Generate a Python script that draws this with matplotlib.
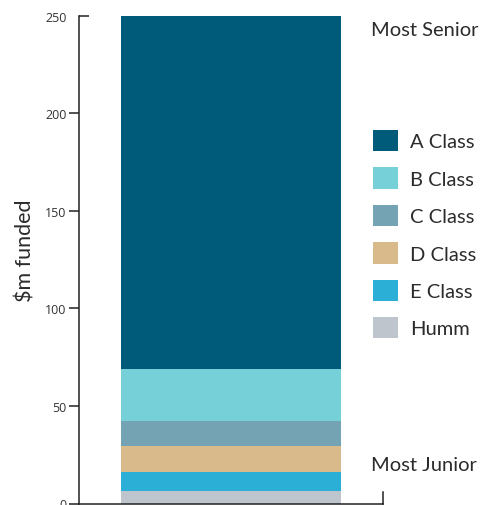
import matplotlib
matplotlib.use("Agg")
import matplotlib.pyplot as plt
from matplotlib.ticker import FixedLocator, FixedFormatter

# Tranche sizes ($m), stacked from most junior (bottom) to most senior (top)
classes = ["Humm", "E Class", "D Class", "C Class", "B Class", "A Class"]
amounts = [6.2, 9.8, 13.3, 12.8, 26.6, 181.3]
colors = ["#bfc5cc", "#2bafd6", "#d9ba8a", "#74a3b3", "#76d0d8", "#005a7a"]
y_ticks = [0, 50, 100, 150, 200]
y_top = 250

W, H = 497, 506
fig = plt.figure(figsize=(W / 100, H / 100), dpi=100)
ax = fig.add_axes([79 / W, (H - 504.5) / H, (383 - 79) / W, (504.5 - 16.7) / H])

handles = {}
bottom = 0.0
for name, amt, col in zip(classes, amounts, colors):
    bars = ax.bar(0, amt, bottom=bottom, width=0.724, color=col, linewidth=0)
    handles[name] = bars
    bottom += amt

ax.set_xlim(-0.5, 0.5)
ax.set_ylim(0, y_top)
ax.set_xticks([])

# Spines: left axis, baseline, and a short end cap on the right
ax.spines["top"].set_visible(False)
for s in ["left", "bottom", "right"]:
    ax.spines[s].set_color("#222222")
    ax.spines[s].set_linewidth(1.1)
ax.spines["right"].set_bounds(0, 6)

ax.yaxis.set_major_locator(FixedLocator(y_ticks))
ax.yaxis.set_minor_locator(FixedLocator([y_top]))
ax.yaxis.set_minor_formatter(FixedFormatter([str(y_top)]))
ax.tick_params(axis="y", which="major", direction="out", length=7, width=1.1,
               color="#222222", labelsize=9, labelcolor="#333333", pad=2)
ax.tick_params(axis="y", which="minor", direction="in", length=7, width=1.1,
               color="#222222", labelsize=9, labelcolor="#333333", pad=9)
ax.tick_params(axis="y", which="both", right=False)
for lab in ax.get_yticklabels(which="both"):
    lab.set_fontfamily("Open Sans")

txt = dict(family="Lato", color="#2b2b2b")

fig.text(25 / W, 1 - 251 / H, "$m funded", rotation=90, ha="center", va="center",
         fontsize=15.5, **txt)

fig.text(371 / W, 1 - 30 / H, "Most Senior", ha="left", va="center",
         fontsize=14.5, **txt)
fig.text(371 / W, 1 - 466 / H, "Most Junior", ha="left", va="center",
         fontsize=14.5, **txt)

order = classes[::-1]
leg = fig.legend([handles[n] for n in order], order, loc="upper left",
                 bbox_to_anchor=(373 / W, 1 - 131 / H), frameon=False,
                 prop={"family": "Lato", "size": 14.5},
                 handlelength=1.25, handleheight=1.25, handletextpad=0.6,
                 labelspacing=0.8, borderpad=0, borderaxespad=0)
for t in leg.get_texts():
    t.set_color("#2b2b2b")

fig.savefig("out.png", dpi=100)
